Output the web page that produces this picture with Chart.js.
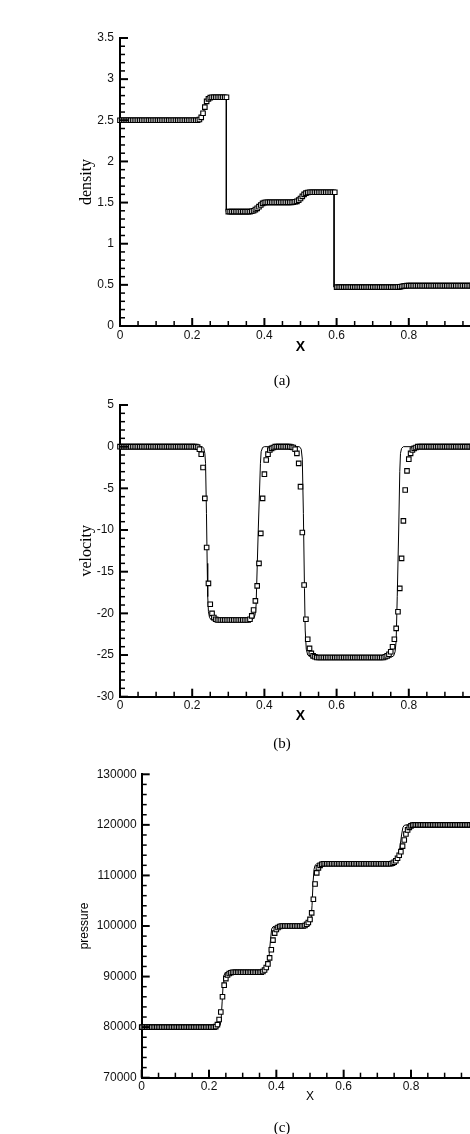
<!DOCTYPE html>
<html>
<head>
<meta charset="utf-8">
<script src="https://cdn.jsdelivr.net/npm/chart.js@4.4.1/dist/chart.umd.min.js"></script>
<style>
  html, body { margin: 0; padding: 0; background: #fff; }
  body { width: 470px; height: 1134px; overflow: hidden; position: relative; }
  canvas { position: absolute; left: 0; }
  .cap {
    position: absolute; left: 282px; transform: translate(-50%, -50%);
    font: 15px "Liberation Serif", "Times New Roman", serif; color: #000;
  }
</style>
</head>
<body>
<canvas id="rho" width="520" height="360" style="top:0"></canvas>
<canvas id="vel" width="520" height="360" style="top:380px"></canvas>
<canvas id="pre" width="520" height="394" style="top:740px"></canvas>
<div class="cap" style="top:380px">(a)</div>
<div class="cap" style="top:743px">(b)</div>
<div class="cap" style="top:1127px">(c)</div>
<script>
// cell centres of the numerical solution
const xs = [
  0, 0.005, 0.01, 0.015, 0.02, 0.025, 0.03, 0.035, 0.04, 0.045,
  0.05, 0.055, 0.06, 0.065, 0.07, 0.075, 0.08, 0.085, 0.09, 0.095,
  0.1, 0.105, 0.11, 0.115, 0.12, 0.125, 0.13, 0.135, 0.14, 0.145,
  0.15, 0.155, 0.16, 0.165, 0.17, 0.175, 0.18, 0.185, 0.19, 0.195,
  0.2, 0.205, 0.21, 0.215, 0.22, 0.225, 0.23, 0.235, 0.24, 0.245,
  0.25, 0.255, 0.26, 0.265, 0.27, 0.275, 0.28, 0.285, 0.29, 0.295,
  0.3, 0.305, 0.31, 0.315, 0.32, 0.325, 0.33, 0.335, 0.34, 0.345,
  0.35, 0.355, 0.36, 0.365, 0.37, 0.375, 0.38, 0.385, 0.39, 0.395,
  0.4, 0.405, 0.41, 0.415, 0.42, 0.425, 0.43, 0.435, 0.44, 0.445,
  0.45, 0.455, 0.46, 0.465, 0.47, 0.475, 0.48, 0.485, 0.49, 0.495,
  0.5, 0.505, 0.51, 0.515, 0.52, 0.525, 0.53, 0.535, 0.54, 0.545,
  0.55, 0.555, 0.56, 0.565, 0.57, 0.575, 0.58, 0.585, 0.59, 0.595,
  0.6, 0.605, 0.61, 0.615, 0.62, 0.625, 0.63, 0.635, 0.64, 0.645,
  0.65, 0.655, 0.66, 0.665, 0.67, 0.675, 0.68, 0.685, 0.69, 0.695,
  0.7, 0.705, 0.71, 0.715, 0.72, 0.725, 0.73, 0.735, 0.74, 0.745,
  0.75, 0.755, 0.76, 0.765, 0.77, 0.775, 0.78, 0.785, 0.79, 0.795,
  0.8, 0.805, 0.81, 0.815, 0.82, 0.825, 0.83, 0.835, 0.84, 0.845,
  0.85, 0.855, 0.86, 0.865, 0.87, 0.875, 0.88, 0.885, 0.89, 0.895,
  0.9, 0.905, 0.91, 0.915, 0.92, 0.925, 0.93, 0.935, 0.94, 0.945,
  0.95, 0.955, 0.96, 0.965, 0.97, 0.975, 0.98, 0.985, 0.99, 0.995,
  1
];

const density = [
  2.5, 2.5, 2.5, 2.5, 2.5, 2.5, 2.5, 2.5, 2.5, 2.5,
  2.5, 2.5, 2.5, 2.5, 2.5, 2.5, 2.5, 2.5, 2.5, 2.5,
  2.5, 2.5, 2.5, 2.5, 2.5, 2.5, 2.5, 2.5, 2.5, 2.5,
  2.5, 2.5, 2.5, 2.5, 2.5, 2.5, 2.5, 2.5, 2.5, 2.5,
  2.5, 2.5, 2.5, 2.5, 2.51, 2.535, 2.585, 2.66, 2.73, 2.76,
  2.775, 2.78, 2.78, 2.78, 2.78, 2.78, 2.78, 2.78, 2.78, 2.78,
  1.39, 1.39, 1.39, 1.39, 1.39, 1.39, 1.39, 1.39, 1.39, 1.39,
  1.39, 1.39, 1.39, 1.395, 1.4, 1.415, 1.43, 1.45, 1.47, 1.49,
  1.5, 1.503, 1.503, 1.503, 1.503, 1.503, 1.503, 1.503, 1.503, 1.503,
  1.503, 1.503, 1.503, 1.503, 1.503, 1.503, 1.505, 1.51, 1.515, 1.53,
  1.55, 1.575, 1.6, 1.615, 1.622, 1.625, 1.625, 1.625, 1.625, 1.625,
  1.625, 1.625, 1.625, 1.625, 1.625, 1.625, 1.625, 1.625, 1.625, 1.625,
  0.472, 0.472, 0.472, 0.472, 0.472, 0.472, 0.472, 0.472, 0.472, 0.472,
  0.472, 0.472, 0.472, 0.472, 0.472, 0.472, 0.472, 0.472, 0.472, 0.472,
  0.472, 0.472, 0.472, 0.472, 0.472, 0.472, 0.472, 0.472, 0.472, 0.472,
  0.472, 0.472, 0.472, 0.472, 0.473, 0.476, 0.48, 0.485, 0.488, 0.49,
  0.49, 0.49, 0.49, 0.49, 0.49, 0.49, 0.49, 0.49, 0.49, 0.49,
  0.49, 0.49, 0.49, 0.49, 0.49, 0.49, 0.49, 0.49, 0.49, 0.49,
  0.49, 0.49, 0.49, 0.49, 0.49, 0.49, 0.49, 0.49, 0.49, 0.49,
  0.49, 0.49, 0.49, 0.49, 0.49, 0.49, 0.49, 0.49, 0.49, 0.49,
  0.49
];

const velocity = [
  0, 0, 0, 0, 0, 0, 0, 0, 0, 0,
  0, 0, 0, 0, 0, 0, 0, 0, 0, 0,
  0, 0, 0, 0, 0, 0, 0, 0, 0, 0,
  0, 0, 0, 0, 0, 0, 0, 0, 0, 0,
  0, 0, 0, -0.05, -0.3, -0.9, -2.5, -6.2, -12.1, -16.4,
  -18.9, -20, -20.5, -20.7, -20.8, -20.8, -20.8, -20.8, -20.8, -20.8,
  -20.8, -20.8, -20.8, -20.8, -20.8, -20.8, -20.8, -20.8, -20.8, -20.8,
  -20.8, -20.8, -20.7, -20.3, -19.6, -18.5, -16.7, -14, -10.4, -6.2,
  -3.3, -1.6, -0.9, -0.4, -0.2, -0.1, 0, 0, 0, 0,
  0, 0, 0, 0, 0, -0.05, -0.1, -0.3, -0.8, -2,
  -4.8, -10.3, -16.6, -20.7, -23.1, -24.2, -24.8, -25.1, -25.2, -25.3,
  -25.3, -25.3, -25.3, -25.3, -25.3, -25.3, -25.3, -25.3, -25.3, -25.3,
  -25.3, -25.3, -25.3, -25.3, -25.3, -25.3, -25.3, -25.3, -25.3, -25.3,
  -25.3, -25.3, -25.3, -25.3, -25.3, -25.3, -25.3, -25.3, -25.3, -25.3,
  -25.3, -25.3, -25.3, -25.3, -25.3, -25.3, -25.3, -25.2, -25.1, -24.9,
  -24.6, -24, -23.1, -21.8, -19.8, -17, -13.4, -8.9, -5.2, -2.9,
  -1.5, -0.8, -0.4, -0.2, -0.1, 0, 0, 0, 0, 0,
  0, 0, 0, 0, 0, 0, 0, 0, 0, 0,
  0, 0, 0, 0, 0, 0, 0, 0, 0, 0,
  0, 0, 0, 0, 0, 0, 0, 0, 0, 0,
  0
];

const pressure = [
  80000, 80000, 80000, 80000, 80000, 80000, 80000, 80000, 80000, 80000,
  80000, 80000, 80000, 80000, 80000, 80000, 80000, 80000, 80000, 80000,
  80000, 80000, 80000, 80000, 80000, 80000, 80000, 80000, 80000, 80000,
  80000, 80000, 80000, 80000, 80000, 80000, 80000, 80000, 80000, 80000,
  80000, 80000, 80000, 80000, 80100, 80500, 81500, 83000, 86000, 88300,
  89600, 90300, 90600, 90750, 90850, 90850, 90850, 90850, 90850, 90850,
  90850, 90850, 90850, 90850, 90850, 90850, 90850, 90850, 90850, 90850,
  90850, 90850, 91000, 91300, 91800, 92500, 93700, 95300, 97200, 98600,
  99300, 99700, 99900, 100000, 100000, 100000, 100000, 100000, 100000, 100000,
  100000, 100000, 100000, 100000, 100000, 100000, 100000, 100100, 100350, 100700,
  101300, 102600, 105300, 108300, 110500, 111500, 112000, 112200, 112300, 112300,
  112300, 112300, 112300, 112300, 112300, 112300, 112300, 112300, 112300, 112300,
  112300, 112300, 112300, 112300, 112300, 112300, 112300, 112300, 112300, 112300,
  112300, 112300, 112300, 112300, 112300, 112300, 112300, 112300, 112300, 112300,
  112300, 112300, 112300, 112300, 112300, 112300, 112300, 112300, 112300, 112400,
  112600, 112900, 113400, 114000, 114700, 115800, 117000, 118200, 119000, 119500,
  119800, 119950, 120000, 120000, 120000, 120000, 120000, 120000, 120000, 120000,
  120000, 120000, 120000, 120000, 120000, 120000, 120000, 120000, 120000, 120000,
  120000, 120000, 120000, 120000, 120000, 120000, 120000, 120000, 120000, 120000,
  120000, 120000, 120000, 120000, 120000, 120000, 120000, 120000, 120000, 120000,
  120000
];

// reference (exact) solution, drawn as a line
const densityExactX = [0, 0.222, 0.228, 0.232, 0.236, 0.24, 0.245, 0.2945, 0.2945,
  0.37, 0.376, 0.383, 0.389, 0.395, 0.49, 0.496, 0.503, 0.509, 0.515,
  0.593, 0.593, 0.772, 0.78, 0.788, 0.795, 1];
const densityExactY = [2.5, 2.5, 2.53, 2.6, 2.7, 2.76, 2.78, 2.78, 1.39,
  1.39, 1.41, 1.45, 1.49, 1.503, 1.503, 1.53, 1.58, 1.615, 1.625,
  1.625, 0.472, 0.472, 0.48, 0.488, 0.49, 0.49];

const velocityExactX = [0, 0.228, 0.232, 0.235, 0.237, 0.2395, 0.2415, 0.243, 0.245, 0.248, 0.253,
  0.365, 0.372, 0.375, 0.377, 0.383, 0.389, 0.391, 0.395, 0.4,
  0.497, 0.502, 0.505, 0.508, 0.511, 0.513, 0.516, 0.52, 0.53,
  0.75, 0.758, 0.762, 0.765, 0.768, 0.772, 0.775, 0.777, 0.78, 0.785, 1];
const velocityExactY = [0, 0, -0.2, -0.8, -2, -8, -14, -18, -19.8, -20.5, -20.8,
  -20.8, -20.5, -20, -19, -10, -2, -0.6, -0.1, 0,
  0, -0.3, -1.5, -8, -17, -22, -24.3, -25, -25.3,
  -25.3, -25.1, -24.6, -23.3, -18, -10, -3, -0.8, -0.2, 0, 0];

const pressureExactX = [0, 0.228, 0.233, 0.236, 0.239, 0.242, 0.244, 0.248, 0.255,
  0.366, 0.372, 0.376, 0.379, 0.383, 0.386, 0.39, 0.397,
  0.495, 0.5, 0.503, 0.506, 0.509, 0.512, 0.515, 0.52,
  0.752, 0.758, 0.762, 0.767, 0.772, 0.776, 0.78, 0.786, 1];
const pressureExactY = [80000, 80000, 80300, 81500, 85000, 88500, 90200, 90700, 90850,
  90850, 91200, 92000, 94500, 97500, 99400, 99850, 100000,
  100000, 100200, 101000, 104000, 108500, 111200, 112000, 112300,
  112300, 112700, 113500, 115500, 118000, 119500, 119900, 120000, 120000];

const SANS = '"Liberation Sans", Arial, sans-serif';
const SERIF = '"Liberation Serif", "Times New Roman", serif';
Chart.defaults.font.family = SANS;

// tecplot-style ticks pointing into the plot, with minor ticks
const innerTicks = {
  id: "innerTicks",
  afterDatasetsDraw(chart, args, opts) {
    const { ctx, chartArea } = chart;
    const { x, y } = chart.scales;
    ctx.save();
    ctx.strokeStyle = "#000";

    const nx = Math.round((x.max - x.min) / opts.xStep);
    for (let i = 0; i <= nx; i++) {
      const major = i % opts.xEvery === 0;
      const px = x.getPixelForValue(x.min + i * opts.xStep);
      ctx.lineWidth = major ? 2 : 1.5;
      ctx.beginPath();
      ctx.moveTo(px, chartArea.bottom);
      ctx.lineTo(px, chartArea.bottom - (major ? 8 : 5));
      ctx.stroke();
    }

    const ny = Math.round((y.max - y.min) / opts.yStep);
    for (let i = 0; i <= ny; i++) {
      const major = i % opts.yEvery === 0;
      const py = y.getPixelForValue(y.min + i * opts.yStep);
      ctx.lineWidth = major ? 2 : 1.5;
      ctx.beginPath();
      ctx.moveTo(chartArea.left, py);
      ctx.lineTo(chartArea.left + (major ? 8 : 5), py);
      ctx.stroke();
    }
    ctx.restore();
  },
};

function makeChart(id, cfg) {
  const ctx = document.getElementById(id).getContext("2d");
  const points = xs.map((x, i) => ({ x, y: cfg.values[i] }));
  const exact = cfg.exactX.map((x, i) => ({ x, y: cfg.exactY[i] }));

  return new Chart(ctx, {
    type: "scatter",
    data: {
      datasets: [
        {
          data: points,
          pointStyle: "rect",
          pointRadius: 3.2,
          borderWidth: 1.1,
          borderColor: "#000",
          backgroundColor: "#fff",
          showLine: false,
          clip: false,
          order: 0,
        },
        {
          data: exact,
          showLine: true,
          pointRadius: 0,
          borderWidth: 1,
          borderColor: "#000",
          order: 1,
        },
      ],
    },
    options: {
      responsive: false,
      animation: false,
      events: [],
      layout: { padding: cfg.padding },
      plugins: {
        legend: { display: false },
        tooltip: { enabled: false },
        innerTicks: cfg.ticks,
      },
      scales: {
        x: {
          type: "linear",
          min: 0,
          max: 1,
          grid: { display: false, drawTicks: false },
          border: { color: "#000", width: 2 },
          ticks: { stepSize: 0.2, padding: 2, color: "#111", maxRotation: 0, font: { size: 12 } },
          title: { display: true, text: "X", color: "#000", font: cfg.xTitleFont, padding: { top: 0, bottom: cfg.xTitlePad } },
          afterFit: (s) => { s.height = cfg.xHeight; },
        },
        y: {
          type: "linear",
          min: cfg.yMin,
          max: cfg.yMax,
          grid: { display: false, drawTicks: false },
          border: { color: "#000", width: 2 },
          ticks: {
            stepSize: cfg.yStep,
            padding: cfg.yPad,
            color: "#111",
            font: { size: 12 },
            callback: (v) => String(v),
          },
          title: { display: true, text: cfg.yTitle, color: "#000", font: cfg.yTitleFont, padding: { top: cfg.yTitlePad, bottom: 0 } },
          afterFit: (s) => { s.width = cfg.yWidth; },
        },
      },
    },
    plugins: [innerTicks],
  });
}

makeChart("rho", {
  values: density,
  exactX: densityExactX,
  exactY: densityExactY,
  yMin: 0, yMax: 3.5, yStep: 0.5, yPad: 6,
  yTitle: "density",
  yTitleFont: { family: SERIF, size: 16 },
  yTitlePad: 77,
  yWidth: 120,
  xHeight: 34,
  xTitleFont: { size: 14, weight: "bold" },
  xTitlePad: 4.6,
  padding: { top: 38, right: 39, left: 0, bottom: 0 },
  ticks: { xStep: 0.05, xEvery: 4, yStep: 0.1, yEvery: 5 },
});

makeChart("vel", {
  values: velocity,
  exactX: velocityExactX,
  exactY: velocityExactY,
  yMin: -30, yMax: 5, yStep: 5, yPad: 6,
  yTitle: "velocity",
  yTitleFont: { family: SERIF, size: 16 },
  yTitlePad: 77,
  yWidth: 120,
  xHeight: 43.3,
  xTitleFont: { size: 14, weight: "bold" },
  xTitlePad: 15.6,
  padding: { top: 25, right: 39, left: 0, bottom: 0 },
  ticks: { xStep: 0.05, xEvery: 4, yStep: 1, yEvery: 5 },
});

makeChart("pre", {
  values: pressure,
  exactX: pressureExactX,
  exactY: pressureExactY,
  yMin: 70000, yMax: 130000, yStep: 10000, yPad: 5,
  yTitle: "pressure",
  yTitleFont: { size: 12 },
  yTitlePad: 77.8,
  yWidth: 141.7,
  xHeight: 56.3,
  xTitleFont: { size: 12 },
  xTitlePad: 29.8,
  padding: { top: 34.3, right: 41.7, left: 0, bottom: 0 },
  ticks: { xStep: 0.05, xEvery: 4, yStep: 2000, yEvery: 5 },
});
</script>
</body>
</html>
